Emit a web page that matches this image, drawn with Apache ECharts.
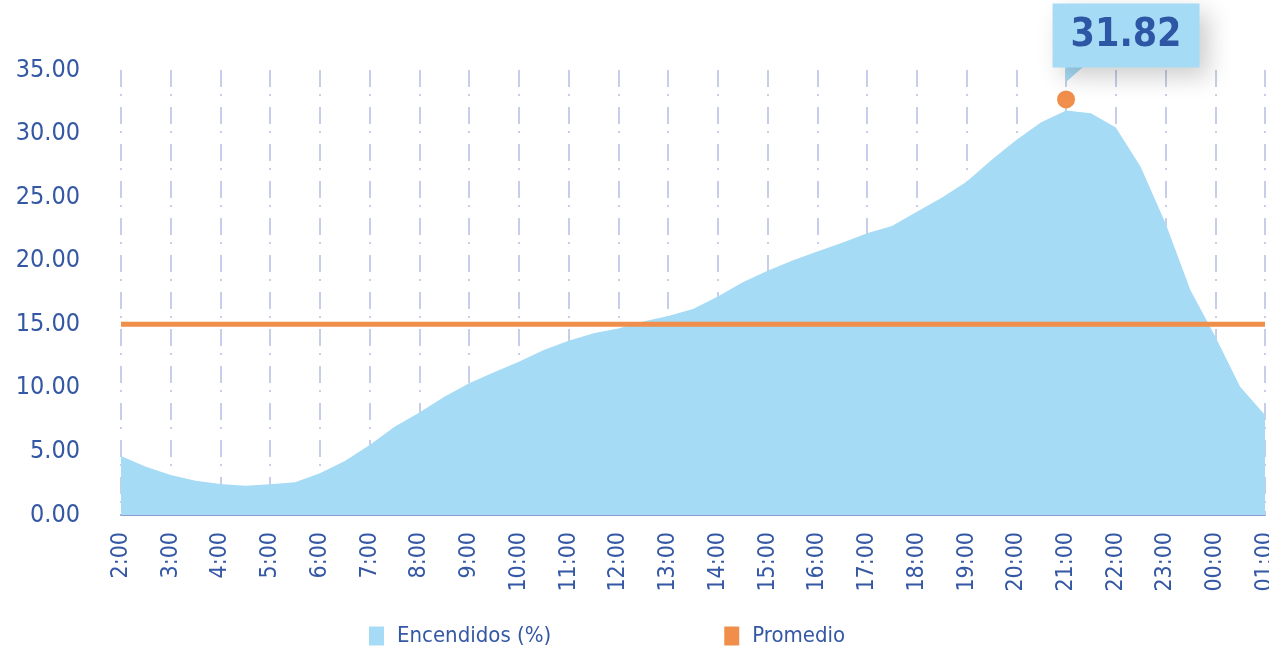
<!DOCTYPE html>
<html>
<head>
<meta charset="utf-8">
<script src="https://cdn.jsdelivr.net/npm/echarts@6/dist/echarts.min.js"></script>
<style>
  html, body { margin: 0; padding: 0; background: #fff; }
  #chart { width: 1269px; height: 655px; }
</style>
</head>
<body>
<div id="chart"></div>
<script>
// categorias (cada media hora), etiquetas solo en las horas
const horas = ["2:00", "2:30", "3:00", "3:30", "4:00", "4:30", "5:00", "5:30", "6:00", "6:30",
  "7:00", "7:30", "8:00", "8:30", "9:00", "9:30", "10:00", "10:30", "11:00", "11:30",
  "12:00", "12:30", "13:00", "13:30", "14:00", "14:30", "15:00", "15:30", "16:00", "16:30",
  "17:00", "17:30", "18:00", "18:30", "19:00", "19:30", "20:00", "20:30", "21:00", "21:30",
  "22:00", "22:30", "23:00", "23:30", "00:00", "00:30", "01:00"];

const encendidos = [4.64, 3.80, 3.15, 2.70, 2.44, 2.31, 2.42, 2.57, 3.28, 4.25,
  5.51, 6.95, 8.06, 9.31, 10.36, 11.23, 12.06, 12.98, 13.71, 14.30,
  14.66, 15.21, 15.66, 16.21, 17.18, 18.31, 19.22, 20.01, 20.72, 21.42,
  22.16, 22.74, 23.86, 24.96, 26.22, 27.93, 29.50, 30.90, 31.82, 31.60,
  30.47, 27.40, 22.95, 17.70, 14.03, 10.09, 7.87];

const promedioValor = 15.0;
const promedio = horas.map(() => promedioValor);

const maximo = { hora: "21:00", valor: 31.82 };

const yTicks = { min: 0, max: 35, interval: 5 };

const font = '"Liberation Sans Narrow", "DejaVu Sans Condensed", sans-serif';
const azulTexto = "#3558a5";
const azulArea = "#a6dbf5";
const naranja = "#f08f4c";

let chart = echarts.init(document.getElementById("chart"));

let option = {
  animation: false,
  textStyle: { fontFamily: font },
  grid: { left: 121, right: 4, top: 70, bottom: 140, outerBoundsMode: "none", containLabel: false },
  legend: {
    left: 369,
    top: 625,
    padding: 0,
    itemWidth: 15,
    itemHeight: 19,
    itemGap: 173,
    icon: "rect",
    data: ["Encendidos (%)", "Promedio"],
    textStyle: {
      color: azulTexto,
      fontSize: 22,
      fontFamily: font,
      padding: [0, 0, 0, 8]
    }
  },
  xAxis: {
    type: "category",
    data: horas,
    boundaryGap: false,
    axisLine: { lineStyle: { color: "#8c9dd1", width: 2 } },
    axisTick: { show: true, inside: true, length: 4, interval: 1, lineStyle: { color: "#c3cbe8" } },
    axisLabel: {
      interval: 1,
      rotate: 90,
      margin: 17,
      color: azulTexto,
      fontSize: 23,
      fontFamily: font
    },
    splitLine: {
      show: true,
      interval: 1,
      lineStyle: { color: "#b5bfe2", width: 1.5, type: [17, 7, 2, 11] }
    }
  },
  yAxis: {
    type: "value",
    min: yTicks.min,
    max: yTicks.max,
    interval: yTicks.interval,
    axisLine: { show: false },
    axisTick: { show: false },
    splitLine: { show: false },
    axisLabel: {
      margin: 41,
      color: azulTexto,
      fontSize: 25,
      fontFamily: font,
      formatter: (v) => v.toFixed(2)
    }
  },
  series: [
    {
      name: "Encendidos (%)",
      type: "line",
      data: encendidos,
      showSymbol: false,
      itemStyle: { color: azulArea },
      lineStyle: { width: 0 },
      areaStyle: { color: azulArea, opacity: 1 },
      z: 2,
      markPoint: {
        silent: true,
        data: [
          {
            coord: [maximo.hora, maximo.valor],
            value: maximo.valor,
            symbol: "circle",
            symbolSize: 18,
            symbolOffset: [0, -11],
            itemStyle: { color: naranja },
            label: {
              show: true,
              position: "top",
              distance: 5,
              offset: [60, -18],
              formatter: (p) => p.value.toFixed(2),
              color: "#2d56a4",
              fontSize: 39,
              fontWeight: "bold",
              fontFamily: font,
              lineHeight: 46,
              backgroundColor: azulArea,
              padding: [9, 18, 9, 18],
              shadowBlur: 24,
              shadowColor: "rgba(0,0,0,0.2)",
              shadowOffsetX: 9,
              shadowOffsetY: 9
            }
          }
        ]
      }
    },
    {
      name: "Promedio",
      type: "line",
      data: promedio,
      showSymbol: false,
      itemStyle: { color: naranja },
      lineStyle: { color: naranja, width: 5 },
      z: 5,
      markPoint: {
        silent: true,
        data: [
          {
            // cola del globo
            coord: [maximo.hora, maximo.valor],
            symbol: "path://M0,0 L18,0 L1,14 Z",
            symbolSize: [18, 15],
            symbolOffset: [8, -36],
            itemStyle: { color: azulArea },
            label: { show: false }
          }
        ]
      }
    }
  ]
};

chart.setOption(option);
</script>
</body>
</html>
